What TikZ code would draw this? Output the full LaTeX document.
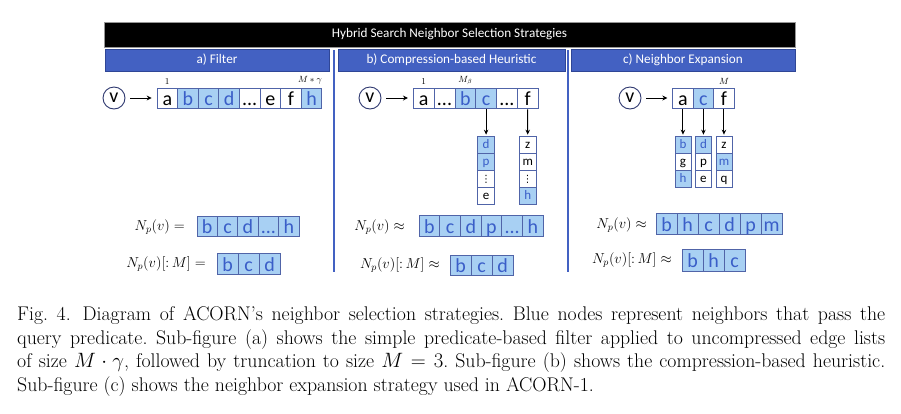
\documentclass[tikz,border=0pt]{standalone}
\usepackage{fontspec}
\newfontfamily\carl{Carlito}
\newfontfamily\dejavu{DejaVu Sans}
\usetikzlibrary{arrows.meta}
\definecolor{hdrblue}{RGB}{67,97,194}
\definecolor{hdredge}{RGB}{47,70,150}
\definecolor{cellfill}{RGB}{168,208,243}
\definecolor{celltext}{RGB}{58,94,200}
\definecolor{cellborder}{RGB}{80,100,168}
\definecolor{circedge}{RGB}{45,55,110}
\definecolor{hdrgray}{RGB}{150,150,150}
\newcommand\celldots{...}
\newcommand\cellvdots{{\dejavu\fontsize{10}{10}\selectfont ⋮}}
\newcommand\cellrow[7]{\foreach \t/\s [count=\i] in {#7} {\node[cell\s,#6,minimum width=#4,minimum height=#5] (#1\i) at ({#2+(\i-0.5)*#4},#3) {\t};}}
\newcommand\cellcol[7]{\foreach \t/\s [count=\i] in {#7} {\node[cell\s,#6,minimum width=#4,minimum height=#5] (#1\i) at (#2,{#3+(\i-0.5)*#5}) {\t};}}
\begin{document}
\frenchspacing
\begin{tikzpicture}[x=1pt,y=-1pt,
  cellB/.style={draw=cellborder,fill=cellfill,text=celltext,line width=0.7pt,inner sep=0pt},
  cellW/.style={draw=cellborder,fill=white,text=black,line width=0.7pt,inner sep=0pt},
  bigtxt/.style={font=\carl\fontsize{20}{20}\selectfont,text height=15pt,text depth=0pt},
  smalltxt/.style={font=\carl\fontsize{13}{13}\selectfont,text height=8.5pt,text depth=0pt},
  toptitle/.style={fill=black,draw=hdrgray,line width=0.6pt,text=white,font=\carl\fontsize{13.2}{14}\selectfont,minimum width=691,minimum height=25,inner sep=0pt},
  subtitle/.style={fill=hdrblue,draw=hdredge,line width=0.6pt,text=white,font=\carl\fontsize{13.2}{14}\selectfont,minimum height=22,inner sep=0pt},
  vnode/.style={circle,draw=circedge,line width=0.9pt,minimum size=22,inner sep=0pt,font=\carl\fontsize{20}{20}\selectfont},
  harrow/.style={-{Stealth[length=5pt,width=5pt]},line width=1pt,shorten <=5pt,shorten >=5pt},
  varrow/.style={-{Stealth[length=5pt,width=4.5pt]},line width=1pt,shorten <=1pt,shorten >=1pt},
  idx/.style={font=\fontsize{9}{9}\selectfont,inner sep=0pt},
  eqlab/.style={font=\fontsize{14}{15}\selectfont,inner sep=0pt,anchor=east},
  sepline/.style={draw=hdrblue,line width=2pt},
  capline/.style={font=\fontsize{19.8}{23.6}\selectfont,inner sep=0pt,anchor=base west}]
\useasboundingbox (0,0) rectangle (901,413);
% headers
\node[toptitle] (title) at (449.5,34.5) {Hybrid Search Neighbor Selection Strategies};
\node[subtitle,minimum width=224] (ha) at (217,60) {a) Filter};
\node[subtitle,minimum width=227] (hb) at (451.5,60) {b) Compression-based Heuristic};
\node[subtitle,minimum width=224] (hc) at (683,60) {c) Neighbor Expansion};
\coordinate (s1t) at (333.5,50); \coordinate (s1b) at (333.5,272);
\coordinate (s2t) at (567.5,50); \coordinate (s2b) at (567.5,272);
\draw[sepline] (s1t) -- (s1b);
\draw[sepline] (s2t) -- (s2b);
% panel a
\node[vnode] (va) at (114,98) {v};
\cellrow{at}{157}{98}{20.6}{20}{bigtxt}{a/W,b/B,c/B,d/B,\celldots/W,e/W,f/W,h/B}
\draw[harrow] (va) -- (at1);
\node[idx,anchor=south] (a1lab) at ([yshift=3pt]at1.north) {1};
\node[idx,anchor=south east] (amlab) at ([yshift=3pt]at8.north east) {$M * \gamma$};
\node[eqlab] (aeq1) at (185,227) {$N_p(v) =$};
\cellrow{ar}{197}{226}{20.4}{20}{bigtxt}{b/B,c/B,d/B,\celldots/B,h/B}
\node[eqlab] (aeq2) at (206,264) {$N_p(v)[{:}\,M] =$};
\cellrow{as}{217}{264}{21}{21}{bigtxt}{b/B,c/B,d/B}
% panel b
\node[vnode] (vb) at (370,98) {v};
\cellrow{bt}{413.3}{98}{20.8}{20}{bigtxt}{a/W,\celldots/W,b/B,c/B,\celldots/W,f/W}
\draw[harrow] (vb) -- (bt1);
\node[idx,anchor=south] (b1lab) at ([yshift=3pt]bt1.north) {1};
\node[idx,anchor=south] (bmlab) at ([yshift=3pt]bt3.north) {$M_\beta$};
\cellcol{bA}{486.1}{136}{17}{17}{smalltxt}{d/B,p/B,\cellvdots/W,e/W}
\cellcol{bB}{527.7}{136}{17}{17}{smalltxt}{z/W,m/W,\cellvdots/W,h/B}
\draw[varrow] (bt4.south) -- (bA1.north);
\draw[varrow] (bt6.south) -- (bB1.north);
\node[eqlab] (beq1) at (405,227) {$N_p(v) \approx$};
\cellrow{br}{419}{225.5}{20.7}{21}{bigtxt}{b/B,c/B,d/B,p/B,\celldots/B,h/B}
\node[eqlab] (beq2) at (440,265) {$N_p(v)[{:}\,M] \approx$};
\cellrow{bs}{450}{265}{21}{20}{bigtxt}{b/B,c/B,d/B}
% panel c
\node[vnode] (vc) at (630,98) {v};
\cellrow{ct}{672.7}{98}{20.5}{20}{bigtxt}{a/W,c/B,f/W}
\draw[harrow] (vc) -- (ct1);
\node[idx,anchor=south] (cmlab) at ([yshift=3pt]ct3.north) {$M$};
\cellcol{cA}{682.95}{136}{16}{17}{smalltxt}{b/B,g/W,h/B}
\cellcol{cB}{703.45}{136}{16}{17}{smalltxt}{d/B,p/W,e/W}
\cellcol{cC}{723.95}{136}{16}{17}{smalltxt}{z/W,m/B,q/W}
\draw[varrow] (ct1.south) -- (cA1.north);
\draw[varrow] (ct2.south) -- (cB1.north);
\draw[varrow] (ct3.south) -- (cC1.north);
\node[eqlab] (ceq1) at (647,225) {$N_p(v) \approx$};
\cellrow{cr}{656}{223.5}{21}{21}{bigtxt}{b/B,h/B,c/B,d/B,p/B,m/B}
\node[eqlab] (ceq2) at (672,260) {$N_p(v)[{:}\,M] \approx$};
\cellrow{cs}{682}{260}{21}{22}{bigtxt}{b/B,h/B,c/B}
% caption
\node[capline] (cap1) at (17,320.7) {\makebox[868pt][s]{Fig. 4.\hspace{0.6em}Diagram of ACORN's neighbor selection strategies. Blue nodes represent neighbors that pass the}};
\node[capline] (cap2) at (17,344.3) {\makebox[868pt][s]{query predicate. Sub-figure (a) shows the simple predicate-based filter applied to uncompressed edge lists}};
\node[capline] (cap3) at (17,367.9) {\makebox[868pt][s]{of size $M\cdot\gamma$, followed by truncation to size $M = 3$. Sub-figure (b) shows the compression-based heuristic.}};
\node[capline] (cap4) at (17,391.5) {Sub-figure (c) shows the neighbor expansion strategy used in ACORN-1.};
\end{tikzpicture}
\end{document}
